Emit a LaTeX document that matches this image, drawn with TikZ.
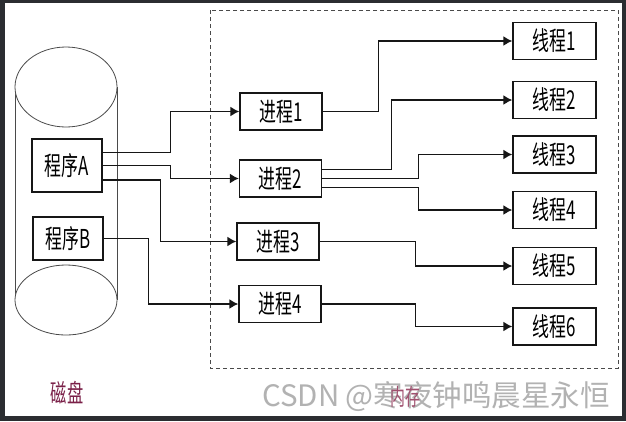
\documentclass[tikz,border=0pt]{standalone}
\usepackage{fontspec}
\newfontfamily\cjk[FakeStretch=0.65]{Noto Sans CJK SC}
\newfontfamily\cjkwm{Noto Sans CJK SC}
\usepackage{xcolor}
\definecolor{cFrame}{HTML}{2B2D31}
\definecolor{cLine}{HTML}{161616}
\definecolor{cGray}{HTML}{4A4A4A}
\definecolor{cDisk}{HTML}{7A2048}
\definecolor{cMem}{HTML}{A0506E}
\definecolor{cMark}{HTML}{B2B2B2}
\usepackage{tikz}
\usetikzlibrary{arrows.meta}
\tikzset{
  node-box/.style={draw=cLine,line width=1.4pt,inner sep=0pt,
    align=center,font=\cjk\fontsize{26}{28}\selectfont},
  node-prog/.style={node-box,minimum width=70pt},
  node-proc/.style={node-box,minimum width=82pt,minimum height=37pt},
  node-thread/.style={node-box,minimum width=83pt,minimum height=37pt},
  % 磁盘圆柱：细灰线
  disk-line/.style={draw=cGray,line width=0.8pt},
  mem-frame/.style={draw=cGray,line width=1pt,dash pattern=on 4pt off 3pt},
  arrow/.style={-{Latex[length=9pt,width=10pt]},line width=1.4pt,draw=cLine},
}

\begin{document}
\begin{tikzpicture}[x=1pt,y=-1pt]
  \fill[cFrame] (0,0) rectangle (626,421);
  \fill[white]  (5,3) rectangle (622,416);
  \useasboundingbox (0,0) rectangle (626,421);

  % 磁盘
  \draw[disk-line] (15,87) -- (15,300);
  \draw[disk-line] (117,87) -- (117,300);
  \draw[disk-line,fill=white] (66,87) ellipse [x radius=51pt,y radius=40pt];
  \draw[disk-line,fill=white] (66,300) ellipse [x radius=51pt,y radius=35pt];

  % 内存
  \draw[mem-frame] (210,10) rectangle (618,368);

  \node[node-prog,minimum height=53pt,fill=white] (pa) at (67,165.5) {程序A};
  \node[node-prog,minimum height=43pt,fill=white] (pb) at (68,238.5) {程序B};

  \node[node-proc] (p1) at (281,111.5) {进程1};
  \node[node-proc] (p2) at (280.5,178.5) {进程2};
  \node[node-proc] (p3) at (278,241.5) {进程3};
  \node[node-proc] (p4) at (280,304) {进程4};

  \node[node-thread] (t1) at (554.5,41)    {线程1};
  \node[node-thread] (t2) at (554.5,100)   {线程2};
  \node[node-thread] (t3) at (554.5,154.5) {线程3};
  \node[node-thread] (t4) at (554.5,210)   {线程4};
  \node[node-thread] (t5) at (554.5,266)   {线程5};
  \node[node-thread] (t6) at (554.5,326.5) {线程6};

  \draw[arrow] ([yshift=13pt]pa.east)   -- ++(68,0) |- (p1.west);
  \draw[arrow] (pa.east)                -- ++(68,0) |- (p2.west);
  \draw[arrow] ([yshift=-14.5pt]pa.east) -- ++(58,0) |- (p3.west);
  \draw[arrow] (pb.east)                -- ++(45,0) |- (p4.west);

  \draw[arrow] (p1.east)                -- ++(56,0) |- (t1.west);
  \draw[arrow] ([yshift=9pt]p2.east)    -- ++(69,0) |- (t2.west);
  \draw[arrow] (p2.east)                -- ++(96,0) |- (t3.west);
  \draw[arrow] ([yshift=-9pt]p2.east)   -- ++(96,0) |- (t4.west);
  \draw[arrow] (p3.east)                -- ++(96,0) |- (t5.west);
  \draw[arrow] (p4.east)                -- ++(94,0) |- (t6.west);

  \node[text=cDisk,font=\cjk\fontsize{25}{27}\selectfont] (disk) at (67,393) {磁盘};
  \node[text=cMark,font=\cjkwm\fontsize{29.5}{31}\selectfont] (mark) at (436,397) {CSDN @寒夜钟鸣晨星永恒};
  \node[text=cMem,font=\cjk\fontsize{23}{25}\selectfont] (mem) at (405,397) {内存};
\end{tikzpicture}
\end{document}
